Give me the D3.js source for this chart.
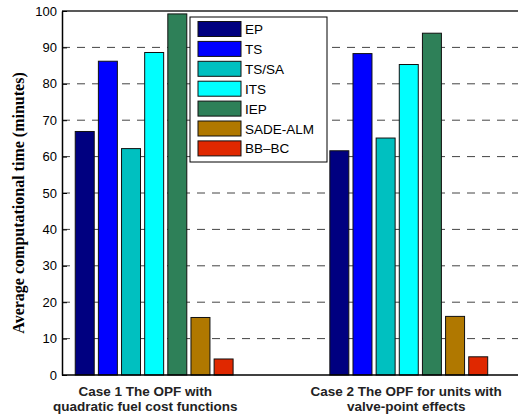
<!DOCTYPE html>
<html>
<head>
<meta charset="utf-8">
<script src="https://cdn.jsdelivr.net/npm/d3@7"></script>
<style>
  body { margin: 0; background: #fff; }
  svg { display: block; }
</style>
</head>
<body>
<div id="chart"></div>
<script>
// data
var methods = ["EP", "TS", "TS/SA", "ITS", "IEP", "SADE-ALM", "BB\u2013BC"];
var colors = ["#000080", "#0000ff", "#00c0c0", "#00ffff", "#2e8058", "#b07800", "#e02800"];
var caseLabels = [
  ["Case 1 The OPF with", "quadratic fuel cost functions"],
  ["Case 2 The OPF for units with", "valve-point effects"]
];
var labelPos = [0.965, 1.99];
var case1Times = [66.9, 86.2, 62.2, 88.6, 99.2, 15.8, 4.4];
var case2Times = [61.6, 88.3, 65.1, 85.3, 93.9, 16.1, 5.0];
var yTicks = [0, 10, 20, 30, 40, 50, 60, 70, 80, 90, 100];

var svgWidth = 518, svgHeight = 416;
var margin = {top: 11, right: 0, bottom: 41, left: 62};
var chartWidth = svgWidth - margin.left - margin.right;
var chartHeight = svgHeight - margin.top - margin.bottom;

var svg = d3.select("#chart").append("svg")
  .attr("width", svgWidth)
  .attr("height", svgHeight);

var chartGroup = svg.append("g")
  .attr("transform", `translate(${margin.left}, ${margin.top})`);

// x: group positions 1 and 2 like matlab bar()
var xScale = d3.scaleLinear()
  .domain([0.638, 2.429])
  .range([0, chartWidth]);

var yScale = d3.scaleLinear()
  .domain([0, 100])
  .range([chartHeight, 0]);

// bar offsets within a group (data units)
var offScale = d3.scaleBand()
  .domain(methods)
  .range([-0.31, 0.31])
  .paddingInner(0.18);

// grid lines
chartGroup.append("g")
  .selectAll("line")
  .data(yTicks.slice(1, -1))
  .enter()
  .append("line")
  .attr("x1", 0)
  .attr("x2", chartWidth)
  .attr("y1", d => yScale(d))
  .attr("y2", d => yScale(d))
  .attr("stroke", "#444")
  .attr("stroke-width", 1)
  .attr("stroke-dasharray", "8,7");

// top border
chartGroup.append("line")
  .attr("x1", 0).attr("x2", chartWidth)
  .attr("y1", 0).attr("y2", 0)
  .attr("stroke", "#222").attr("stroke-width", 1.5);

// y axis
var yAxis = d3.axisLeft(yScale).tickValues(yTicks).tickSizeInner(-5).tickSizeOuter(0).tickPadding(5);
var yG = chartGroup.append("g").call(yAxis);
yG.select(".domain").attr("stroke", "#000").attr("stroke-width", 1.5);
yG.selectAll("text")
  .attr("font-family", "Liberation Sans, Arial, sans-serif")
  .attr("font-size", 13)
  .attr("fill", "#000");

// bars
var groups = [case1Times, case2Times];
groups.forEach((vals, gi) => {
  chartGroup.append("g")
    .selectAll("rect")
    .data(vals)
    .enter()
    .append("rect")
    .attr("x", (d, i) => xScale(gi + 1 + offScale(methods[i])))
    .attr("y", d => yScale(d))
    .attr("width", (d, i) => xScale(gi + 1 + offScale(methods[i]) + offScale.bandwidth()) - xScale(gi + 1 + offScale(methods[i])))
    .attr("height", d => chartHeight - yScale(d))
    .attr("fill", (d, i) => colors[i])
    .attr("stroke", "#111")
    .attr("stroke-width", 1);
});

// x axis baseline
chartGroup.append("line")
  .attr("x1", 0).attr("x2", chartWidth)
  .attr("y1", chartHeight).attr("y2", chartHeight)
  .attr("stroke", "#000").attr("stroke-width", 1.5);

// x labels
caseLabels.forEach((lines, gi) => {
  var t = chartGroup.append("text")
    .attr("x", xScale(labelPos[gi]))
    .attr("y", chartHeight + 21)
    .attr("text-anchor", "middle")
    .attr("font-family", "Liberation Sans, Arial, sans-serif")
    .attr("font-weight", "bold")
    .attr("font-size", 13.5)
    .attr("fill", "#222");
  lines.forEach((ln, li) => {
    t.append("tspan")
      .attr("x", xScale(labelPos[gi]))
      .attr("dy", li == 0 ? 0 : 14.5)
      .text(ln);
  });
});

// y label
svg.append("text")
  .attr("transform", `translate(24, ${margin.top + chartHeight / 2 + 10}) rotate(-90)`)
  .attr("text-anchor", "middle")
  .attr("font-family", "Liberation Serif, Times New Roman, serif")
  .attr("font-weight", "bold")
  .attr("font-size", 16)
  .attr("fill", "#000")
  .text("Average computational time (minutes)");

// legend
var legend = svg.append("g").attr("transform", "translate(190, 17)");
legend.append("rect")
  .attr("width", 137).attr("height", 145)
  .attr("fill", "#fff").attr("stroke", "#000").attr("stroke-width", 1);
var items = legend.selectAll("g.item")
  .data(methods)
  .enter()
  .append("g")
  .attr("transform", (d, i) => `translate(8, ${4.5 + i * 19.9})`);
items.append("rect")
  .attr("width", 43).attr("height", 15)
  .attr("fill", (d, i) => colors[i])
  .attr("stroke", "#111");
items.append("text")
  .attr("x", 47).attr("y", 12.5)
  .attr("font-family", "Liberation Sans, Arial, sans-serif")
  .attr("font-size", 13.5)
  .attr("fill", "#000")
  .text(d => d);
</script>
</body>
</html>
